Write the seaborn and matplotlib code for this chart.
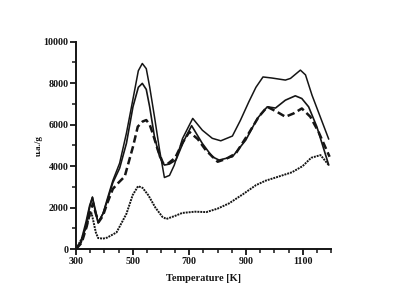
import matplotlib
matplotlib.use("Agg")
import matplotlib.pyplot as plt
import seaborn as sns
import pandas as pd
from matplotlib.ticker import MultipleLocator

T_top = [300, 318, 335, 348, 358, 368, 378, 395, 410, 430, 454, 478, 495, 507, 520, 534, 548,
         560, 577, 595, 612, 630, 647, 676, 712, 746, 781, 811, 852, 880, 910, 935, 960, 991,
         1039, 1057, 1092, 1110, 1133, 1192]
V_top = [0, 400, 1300, 2100, 2500, 1800, 1300, 1700, 2400, 3300, 4140, 5590, 6800, 7660, 8600,
         8950, 8700, 7820, 6380, 4770, 3450, 3550, 4050, 5330, 6300, 5730, 5340, 5220, 5450,
         6200, 7100, 7800, 8300, 8250, 8150, 8230, 8630, 8400, 7420, 5300]

T_mid = [300, 318, 335, 348, 358, 368, 378, 395, 410, 430, 454, 478, 501, 520, 534, 548, 560,
         577, 595, 612, 630, 653, 680, 708, 746, 781, 805, 852, 899, 940, 975, 1004, 1039, 1074,
         1097, 1121, 1150, 1192]
V_mid = [0, 300, 1100, 2000, 2500, 1900, 1250, 1700, 2300, 3200, 3900, 5100, 6860, 7800, 7990,
         7700, 6860, 5410, 4450, 4050, 4100, 4300, 5200, 5950, 5090, 4450, 4290, 4450, 5250,
         6300, 6860, 6800, 7180, 7390, 7260, 6860, 5900, 4050]

T_dash = [300, 320, 338, 350, 360, 370, 380, 395, 410, 430, 450, 472, 501, 518, 535, 548, 560,
          571, 589, 607, 623, 650, 675, 700, 730, 758, 800, 830, 864, 910, 945, 975, 1009, 1039,
          1068, 1097, 1127, 1156, 1195]
V_dash = [0, 300, 1100, 1800, 2200, 1700, 1300, 1600, 2200, 2900, 3200, 3500, 4930, 5900, 6150,
          6220, 6000, 5570, 4770, 4140, 4100, 4400, 5100, 5650, 5300, 4770, 4210, 4350, 4610,
          5590, 6380, 6860, 6620, 6380, 6540, 6780, 6380, 5650, 4450]

T_low = [300, 320, 338, 348, 355, 362, 370, 378, 395, 410, 443, 478, 500, 519, 535, 555, 580,
         605, 619, 650, 675, 720, 760, 800, 840, 890, 935, 970, 1005, 1062, 1100, 1130, 1163,
         1192]
V_low = [0, 500, 1150, 1600, 1730, 1300, 800, 530, 500, 550, 800, 1700, 2600, 3030, 2950, 2600,
         2000, 1550, 1450, 1600, 1740, 1800, 1780, 1950, 2200, 2650, 3080, 3300, 3450, 3700,
         4000, 4400, 4530, 4050]

x_ticks = [300, 500, 700, 900, 1100]
y_ticks = [0, 2000, 4000, 6000, 8000, 10000]

sns.set_style("ticks")
plt.rcParams['font.family'] = ['Liberation Serif', 'DejaVu Serif']

fig = plt.figure(figsize=(4.0, 2.98), dpi=100)
ax = fig.add_axes([0.19, 0.1644, 0.6375, 0.6956])

ink = "#151515"
sns.lineplot(data=pd.DataFrame({"T": T_top, "V": V_top}), x="T", y="V", ax=ax,
             color=ink, lw=1.1)
sns.lineplot(data=pd.DataFrame({"T": T_mid, "V": V_mid}), x="T", y="V", ax=ax,
             color=ink, lw=1.2)
sns.lineplot(data=pd.DataFrame({"T": T_dash, "V": V_dash}), x="T", y="V", ax=ax,
             color=ink, lw=1.8, linestyle=(0, (3, 1.5)))
sns.lineplot(data=pd.DataFrame({"T": T_low, "V": V_low}), x="T", y="V", ax=ax,
             color=ink, lw=1.4, linestyle=(0, (1, 0.5)))

ax.set_xlim(300, 1200)
ax.set_ylim(0, 10000)
ax.set_xticks(x_ticks)
ax.set_yticks(y_ticks)
ax.xaxis.set_minor_locator(MultipleLocator(50))
ax.yaxis.set_minor_locator(MultipleLocator(1000))
ax.tick_params(axis="both", which="major", length=4, width=1.3, labelsize=7.2, pad=1.5,
               direction="out", color=ink, labelcolor=ink)
ax.tick_params(axis="both", which="minor", length=3, width=1.1, direction="out", color=ink)
for lab in ax.get_xticklabels() + ax.get_yticklabels():
    lab.set_fontweight("bold")

for s in ["top", "right"]:
    ax.spines[s].set_visible(False)
for s in ["left", "bottom"]:
    ax.spines[s].set_linewidth(1.4)
    ax.spines[s].set_color(ink)

ax.set_xlabel("Temperature [K]", fontsize=7.5, fontweight="bold", labelpad=6, color=ink)
ax.set_ylabel("u.a./g", fontsize=6.5, fontweight="bold", labelpad=0.5, color=ink)

fig.savefig("out.png", dpi=100, facecolor="white")
